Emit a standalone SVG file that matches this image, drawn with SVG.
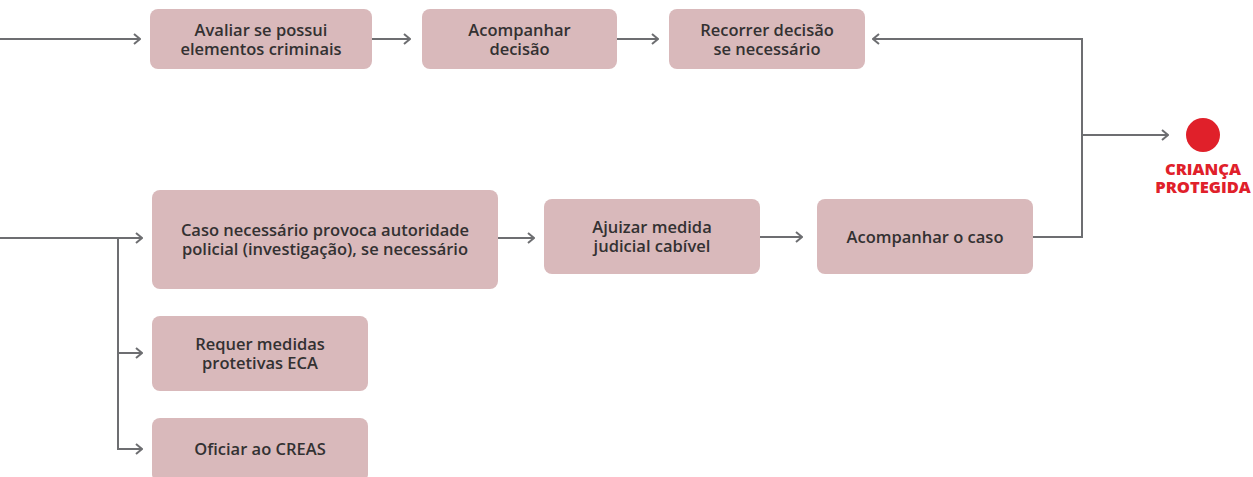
<svg xmlns="http://www.w3.org/2000/svg" width="1253" height="477" viewBox="0 0 1253 477">
<defs>
<style>
.box{fill:#d9b9bb;}
.t{font-family:"Open Sans","Liberation Sans",sans-serif;font-weight:600;font-size:16.5px;fill:#333132;text-anchor:middle;}
.c{fill:none;stroke:#6d6e71;stroke-width:2;}
.r{font-family:"Open Sans","Liberation Sans",sans-serif;font-weight:800;font-size:16.5px;fill:#e0202a;text-anchor:middle;}
</style>
<marker id="a" viewBox="0 0 10 12" refX="9" refY="6" markerWidth="10" markerHeight="12" markerUnits="userSpaceOnUse" orient="auto">
<path d="M3,1 L9,6 L3,11" fill="none" stroke="#6d6e71" stroke-width="2"/>
</marker>
</defs>
<rect width="1253" height="477" fill="#ffffff"/>
<g id="connectors">
<path class="c" d="M0,39 H140" marker-end="url(#a)"/>
<path class="c" d="M372,39 H410" marker-end="url(#a)"/>
<path class="c" d="M617,39 H658" marker-end="url(#a)"/>
<path class="c" d="M1033,237 H1082 V39 H873" marker-end="url(#a)"/>
<path class="c" d="M1082,135 H1168" marker-end="url(#a)"/>
<path class="c" d="M0,238 H142" marker-end="url(#a)"/>
<path class="c" d="M118,238 V353 H142" marker-end="url(#a)"/>
<path class="c" d="M118,353 V449 H142" marker-end="url(#a)"/>
<path class="c" d="M497,238 H534" marker-end="url(#a)"/>
<path class="c" d="M760,237 H802" marker-end="url(#a)"/>
</g>
<g id="n1"><rect class="box" x="150" y="9" width="222" height="60" rx="8"/><text class="t" x="261" y="36">Avaliar se possui</text><text class="t" x="261" y="55">elementos criminais</text></g>
<g id="n2"><rect class="box" x="422" y="9" width="195" height="60" rx="8"/><text class="t" x="519.5" y="36">Acompanhar</text><text class="t" x="519.5" y="55">decisão</text></g>
<g id="n3"><rect class="box" x="669" y="9" width="196" height="60" rx="8"/><text class="t" x="767" y="36">Recorrer decisão</text><text class="t" x="767" y="55">se necessário</text></g>
<g id="n4"><rect class="box" x="152" y="190" width="346" height="99" rx="8"/><text class="t" x="325" y="236">Caso necessário provoca autoridade</text><text class="t" x="325" y="255">policial (investigação), se necessário</text></g>
<g id="n5"><rect class="box" x="544" y="199" width="216" height="75" rx="8"/><text class="t" x="652" y="233">Ajuizar medida</text><text class="t" x="652" y="252">judicial cabível</text></g>
<g id="n6"><rect class="box" x="817" y="199" width="216" height="75" rx="8"/><text class="t" x="925" y="243">Acompanhar o caso</text></g>
<g id="n7"><rect class="box" x="152" y="316" width="216" height="75" rx="8"/><text class="t" x="260" y="350">Requer medidas</text><text class="t" x="260" y="369">protetivas ECA</text></g>
<g id="n8"><rect class="box" x="152" y="418" width="216" height="64" rx="8"/><text class="t" x="260" y="455">Oficiar ao CREAS</text></g>
<g id="n9"><circle cx="1203" cy="135" r="17" fill="#e0202a"/><text class="r" x="1203" y="175">CRIANÇA</text><text class="r" x="1203" y="193">PROTEGIDA</text></g>
</svg>
